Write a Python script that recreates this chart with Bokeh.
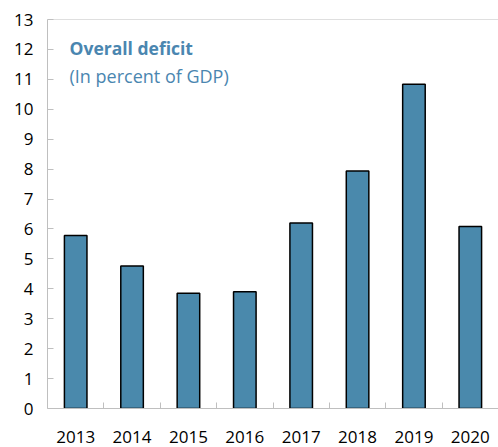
from bokeh.plotting import figure
from bokeh.models import FixedTicker, Span, Label, Range1d
from bokeh.embed import file_html
from bokeh.resources import INLINE

years = ["2013", "2014", "2015", "2016", "2017", "2018", "2019", "2020"]
deficit = [5.78, 4.76, 3.85, 3.9, 6.2, 7.94, 10.84, 6.08]
y_ticks = list(range(0, 14))

title_text = "Overall deficit"
subtitle_text = "(In percent of GDP)"

xs = [i + 0.5 for i in range(len(years))]

p = figure(width=498, height=447, output_backend="svg", toolbar_location=None,
           x_range=Range1d(0, len(years)), y_range=Range1d(0, 13),
           min_border_left=47, min_border_right=0, min_border_top=19, min_border_bottom=39)
p.outline_line_color = None
p.grid.grid_line_color = None
p.background_fill_color = "white"
p.border_fill_color = "white"

p.vbar(x=xs, top=deficit, width=0.4, bottom=0, fill_color="#4A89AC",
       line_color="black", line_width=1.5)

axis_col = "#BFBFBF"
# y axis
p.yaxis.ticker = FixedTicker(ticks=y_ticks)
p.yaxis.axis_line_color = axis_col
p.yaxis.major_tick_line_color = axis_col
p.yaxis.major_tick_in = 6
p.yaxis.major_tick_out = 0
p.yaxis.minor_tick_line_color = None
p.yaxis.major_label_text_font = "Open Sans"
p.yaxis.major_label_text_font_size = "17px"
p.yaxis.major_label_text_color = "black"
p.yaxis.major_label_standoff = 14

# x axis
p.xaxis.ticker = FixedTicker(ticks=xs, minor_ticks=list(range(1, len(years))))
p.xaxis.major_label_overrides = {x: y for x, y in zip(xs, years)}
p.xaxis.axis_line_color = axis_col
p.xaxis.major_tick_line_color = None
p.xaxis.minor_tick_line_color = axis_col
p.xaxis.minor_tick_in = 6
p.xaxis.minor_tick_out = 0
p.xaxis.major_label_text_font = "Open Sans"
p.xaxis.major_label_text_font_size = "17px"
p.xaxis.major_label_text_color = "black"
p.xaxis.major_label_standoff = 16

p.add_layout(Span(location=13, dimension="width", line_color=axis_col, line_width=1))

p.add_layout(Label(x=22, y=361, x_units="screen", y_units="screen", text=title_text,
                   text_font="Open Sans", text_font_size="17.5px", text_font_style="bold",
                   text_color="#4A86B0", text_baseline="alphabetic"))
p.add_layout(Label(x=22, y=333, x_units="screen", y_units="screen", text=subtitle_text,
                   text_font="Open Sans", text_font_size="18px",
                   text_color="#4A86B0", text_baseline="alphabetic"))

open("out.html", "w").write(file_html(p, INLINE))
